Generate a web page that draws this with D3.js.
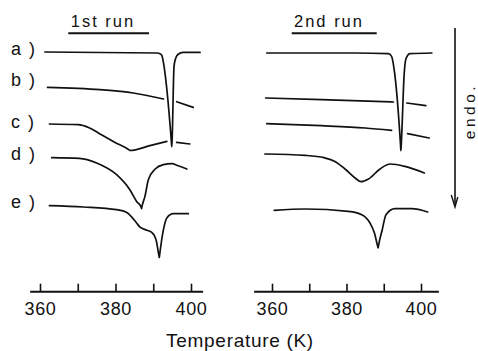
<!DOCTYPE html>
<html><head><meta charset="utf-8">
<script src="https://cdn.jsdelivr.net/npm/d3@7/dist/d3.min.js"></script>
<style>body{margin:0;background:#fff}svg{display:block}</style>
</head><body>
<svg id="chart" width="478" height="351"></svg>
<script>
// ---- data (temperature K, signal in arbitrary units; null = gap in trace) ----
const tickValues = [360, 370, 380, 390, 400];
const tickLabels = ["360", "", "380", "", "400"];
const rowLabels = ["a )", "b )", "c )", "d )", "e )"];
const panelTitles = ["1st run", "2nd run"];
const axisTitle = "Temperature (K)";
const endoLabel = "endo.";

const run1A = [[361.3,239.7],[391.0,238.7],[391.8,238],[392.3,236],[392.7,229],[394.8,150],[394.9,145],[395.0,152],[395.5,225],[395.9,233],[396.6,237.5],[397.9,239.3],[402.4,239.3]];
const run1B = [[362.0,204.3],[375.9,202],[384.7,198.7],[392.7,192.7],[394.5,null],[396.2,190],[400.6,184.3]];
const run1C = [[362.5,167.7],[370.1,167],[373.0,164],[376.0,157.5],[380.0,149],[383.7,141.5],[383.8,141.2],[389.1,146],[393.6,150.3],[395.0,null],[396.2,149.3],[399.7,147.7]];
const run1D = [[363.1,134],[370.4,133.3],[375.0,128.7],[380.3,117],[383.8,102],[385.6,90.3],[386.8,84.5],[386.9,83],[387.0,85],[387.8,95.3],[388.7,112],[390.5,122.7],[392.7,127],[394.9,128],[396.6,126],[398.9,122.7]];
const run1E = [[362.5,86],[371.5,84.7],[380.3,82],[383.0,79.3],[385.6,68.7],[386.5,64.5],[388.3,61.5],[389.6,59.3],[390.3,56],[390.8,51],[391.5,36],[391.6,34],[391.7,37],[392.7,62],[393.6,73.7],[395.3,78],[399.3,78]];

const run2A = [[358.6,238.7],[382.3,238.7],[391.2,238],[392.1,235.3],[392.8,222],[394.5,147],[394.6,141],[394.7,147],[395.5,218.7],[395.9,232],[397.0,238],[402.9,238.7]];
const run2B = [[358.3,193.7],[373.3,192],[392.6,189.7],[394.5,null],[396.2,188.7],[401.3,186]];
const run2C = [[358.6,168],[373.3,166],[385.0,163.7],[392.1,161.3],[394.5,null],[396.4,158],[402.2,153.7]];
const run2D = [[358.1,137.7],[368.9,136.3],[374.0,134],[376.9,130.3],[379.6,122.7],[382.3,113.7],[383.9,110],[385.9,112.7],[389.0,122.7],[391.7,127.7],[395.7,125.3],[400.9,118.7]];
const run2E = [[360.6,81.3],[368.9,82.7],[380.5,80.3],[384.1,77],[386.3,68.7],[387.5,58.7],[388.4,45],[388.5,43.7],[388.6,46],[389.6,62],[390.6,77],[393.0,83],[397.5,83],[401.8,79.7]];

const run1 = [run1A, run1B, run1C, run1D, run1E];
const run2 = [run2A, run2B, run2C, run2D, run2E];

// ---- layout ----
const FONT = "'Liberation Sans', Arial, sans-serif";
const svg = d3.select("#chart");
const axisY = 291.7;
const y = d3.scaleLinear().domain([0, 260]).range([axisY, axisY - 260]);

const panels = [
  { runs: run1, range: [40, 191], extent: [357.4, 403.2], title: panelTitles[0], titleX: 103, ul: [68.3, 149] },
  { runs: run2, range: [272, 421], extent: [355.2, 404.8], title: panelTitles[1], titleX: 329, ul: [291.7, 376.7] }
];

panels.forEach(p => {
  const x = d3.scaleLinear().domain([360, 400]).range(p.range);
  const line = d3.line()
    .defined(d => d[1] !== null)
    .x(d => x(d[0])).y(d => y(d[1]))
    .curve(d3.curveMonotoneX);

  svg.append("g").selectAll("path").data(p.runs).join("path")
    .attr("d", line)
    .attr("fill", "none").attr("stroke", "#111").attr("stroke-width", 1.7)
    .attr("stroke-linejoin", "round").attr("stroke-linecap", "round");

  // axis
  const ax = d3.axisBottom(x).tickValues(tickValues)
    .tickSizeInner(-8).tickSizeOuter(0).tickPadding(10.3)
    .tickFormat((d, i) => tickLabels[i]);
  const g = svg.append("g").attr("transform", `translate(0,${axisY})`).call(ax);
  g.select(".domain").remove();
  g.selectAll(".tick line").attr("stroke", "#111").attr("stroke-width", 1.6);
  g.selectAll(".tick text").attr("fill", "#111").attr("font-family", FONT)
    .attr("font-size", 18).attr("letter-spacing", 0.6);
  g.append("line").attr("x1", x(p.extent[0])).attr("x2", x(p.extent[1]))
    .attr("y1", 0).attr("y2", 0).attr("stroke", "#111").attr("stroke-width", 2);

  // panel title with underline
  svg.append("text").attr("x", p.titleX).attr("y", 26.7).attr("text-anchor", "middle")
    .attr("font-family", FONT).attr("font-size", 16.5).attr("letter-spacing", 2)
    .attr("fill", "#111").text(p.title);
  svg.append("line").attr("x1", p.ul[0]).attr("x2", p.ul[1]).attr("y1", 33.3).attr("y2", 33.3)
    .attr("stroke", "#111").attr("stroke-width", 2);
});

// row labels
const labelBaselines = [55, 86, 128.3, 160, 208.3];
svg.append("g").selectAll("text").data(rowLabels).join("text")
  .attr("x", 11).attr("y", (d, i) => labelBaselines[i])
  .attr("font-family", FONT).attr("font-size", 18).attr("letter-spacing", 1.5)
  .attr("fill", "#111").style("white-space", "pre").text(d => d);

// x-axis title
svg.append("text").attr("x", 240).attr("y", 347).attr("text-anchor", "middle")
  .attr("font-family", FONT).attr("font-size", 19).attr("letter-spacing", 0.7)
  .attr("fill", "#111").text(axisTitle);

// endo arrow
svg.append("line").attr("x1", 455).attr("x2", 455).attr("y1", 28).attr("y2", 206)
  .attr("stroke", "#111").attr("stroke-width", 1.6);
svg.append("path").attr("d", "M451.3,195 L455,207 L457.8,197")
  .attr("fill", "none").attr("stroke", "#111").attr("stroke-width", 1.4);
svg.append("text").attr("transform", "translate(474.5,111) rotate(-90)")
  .attr("text-anchor", "middle").attr("font-family", FONT).attr("font-size", 15.5)
  .attr("letter-spacing", 3.5).attr("fill", "#111").text(endoLabel);
</script>
</body></html>
